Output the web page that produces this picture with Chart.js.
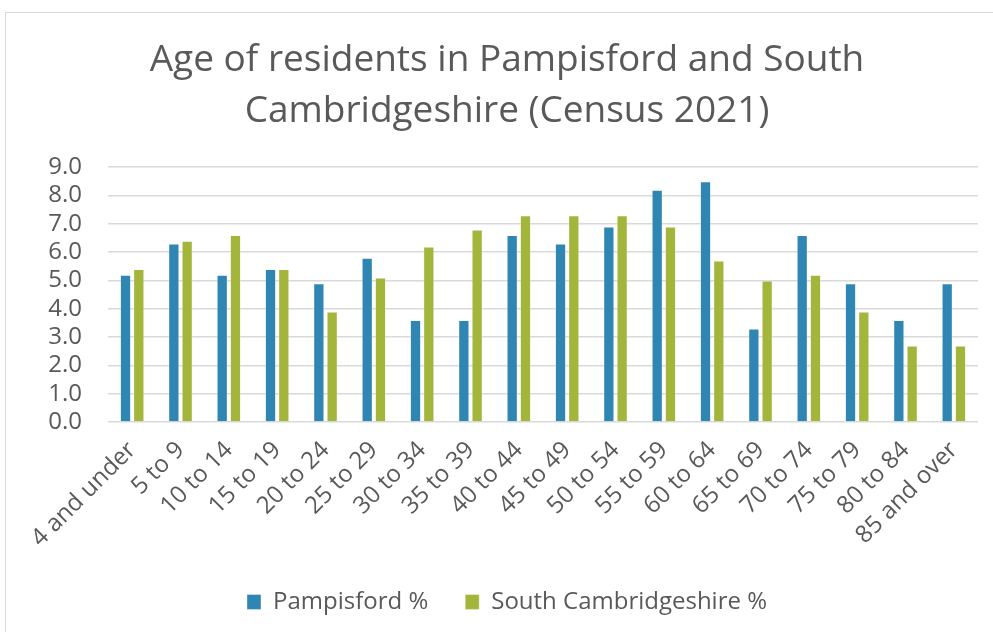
<!DOCTYPE html>
<html>
<head>
<meta charset="utf-8">
<script src="https://cdn.jsdelivr.net/npm/chart.js@4.4.1/dist/chart.umd.min.js"></script>
<style>
html, body { margin: 0; padding: 0; background: #ffffff; overflow: hidden; width: 993px; height: 632px; }
#frame { position: absolute; left: 5px; top: 12px; width: 1003px; height: 640px; border-left: 1px solid #d9d9d9; border-top: 1px solid #d9d9d9; box-sizing: border-box; }
#wrap { position: absolute; left: 0; top: 0; width: 1002px; height: 619px; }
</style>
</head>
<body>
<div id="frame"><div id="wrap"><canvas id="c"></canvas></div></div>
<script>
const categories = ["4 and under","5 to 9","10 to 14","15 to 19","20 to 24","25 to 29","30 to 34","35 to 39","40 to 44","45 to 49","50 to 54","55 to 59","60 to 64","65 to 69","70 to 74","75 to 79","80 to 84","85 and over"];
const pampisford = [5.2, 6.3, 5.2, 5.4, 4.9, 5.8, 3.6, 3.6, 6.6, 6.3, 6.9, 8.2, 8.5, 3.3, 6.6, 4.9, 3.6, 4.9];
const southCambs = [5.4, 6.4, 6.6, 5.4, 3.9, 5.1, 6.2, 6.8, 7.3, 7.3, 7.3, 6.9, 5.7, 5.0, 5.2, 3.9, 2.7, 2.7];
const seriesNames = ["Pampisford %", "South Cambridgeshire %"];
const titleLines = ["Age of residents in Pampisford and South", "Cambridgeshire (Census 2021)"];

const textColor = "#595959";
const fontFamily = "'Open Sans', 'Noto Sans', sans-serif";

new Chart(document.getElementById("c"), {
  type: "bar",
  data: {
    labels: categories,
    datasets: [
      { label: seriesNames[0], data: pampisford, backgroundColor: "#3086b3", borderColor: "rgba(255,255,255,0.35)", borderWidth: 1, categoryPercentage: 0.55, barPercentage: 0.85 },
      { label: seriesNames[1], data: southCambs, backgroundColor: "#a3b53a", borderColor: "rgba(255,255,255,0.35)", borderWidth: 1, categoryPercentage: 0.55, barPercentage: 0.85 }
    ]
  },
  options: {
    responsive: true,
    maintainAspectRatio: false,
    animation: false,
    devicePixelRatio: 1,
    layout: { autoPadding: false, padding: { left: 0, right: 0, top: 0, bottom: 8 } },
    plugins: {
      title: {
        display: true,
        text: titleLines,
        color: textColor,
        font: { family: fontFamily, size: 37, weight: "normal", lineHeight: 1.38 },
        padding: { top: 22, bottom: 30 }
      },
      legend: {
        position: "bottom",
        labels: {
          color: textColor,
          font: { family: fontFamily, size: 24 },
          boxWidth: 14,
          boxHeight: 15,
          padding: 37
        }
      },
      tooltip: { enabled: false }
    },
    scales: {
      x: {
        afterFit: (s) => { s.height = 131; },
        grid: { display: false },
        border: { display: false },
        ticks: {
          color: textColor,
          font: { family: fontFamily, size: 24 },
          maxRotation: 45,
          minRotation: 45,
          autoSkip: false,
          padding: 6
        }
      },
      y: {
        min: 0,
        max: 9,
        afterFit: (s) => { s.width = 102; },
        grid: { color: "#d9d9d9", lineWidth: 1.5, drawTicks: false },
        border: { display: false },
        ticks: {
          stepSize: 1,
          autoSkip: false,
          color: textColor,
          font: { family: fontFamily, size: 24 },
          padding: 26,
          callback: (v) => Number(v).toFixed(1)
        }
      },
      yRight: {
        position: "right",
        display: true,
        afterFit: (s) => { s.width = 30; },
        grid: { display: false, drawTicks: false },
        border: { display: false },
        ticks: { display: false }
      }
    }
  }
});
</script>
</body>
</html>
